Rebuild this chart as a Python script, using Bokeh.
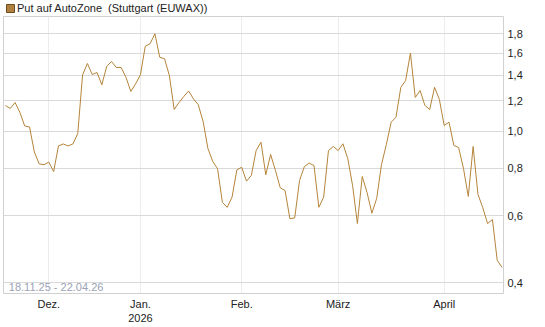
from bokeh.plotting import figure
from bokeh.layouts import column
from bokeh.models import Range1d, FixedTicker, CustomJSTickFormatter, Legend, LegendItem, Label
from bokeh.embed import file_html
from bokeh.resources import INLINE

# Daily closing values (trading days 18.11.25 - 22.04.26)
values = [
    1.167, 1.146, 1.188, 1.119, 1.031, 1.025, 0.881, 0.820, 0.816, 0.829,
    0.783, 0.914, 0.925, 0.914, 0.925, 0.985, 1.403, 1.504, 1.407, 1.424,
    1.322, 1.477, 1.522, 1.468, 1.468, 1.384, 1.270, 1.330, 1.404, 1.669,
    1.694, 1.799, 1.562, 1.547, 1.399, 1.139, 1.188, 1.232, 1.274, 1.214,
    1.172, 1.059, 0.900, 0.832, 0.796, 0.650, 0.631, 0.671, 0.791, 0.804,
    0.739, 0.765, 0.889, 0.935, 0.768, 0.868, 0.788, 0.710, 0.698, 0.589,
    0.592, 0.742, 0.807, 0.824, 0.812, 0.631, 0.671, 0.889, 0.911, 0.889,
    0.926, 0.847, 0.720, 0.572, 0.760, 0.690, 0.609, 0.666, 0.817, 0.922,
    1.055, 1.087, 1.301, 1.357, 1.600, 1.225, 1.277, 1.167, 1.139, 1.303,
    1.210, 1.034, 1.055, 0.917, 0.905, 0.798, 0.674, 0.911, 0.682, 0.630,
    0.572, 0.586, 0.458, 0.439,
]
x = list(range(len(values)))

month_ticks = [9, 28, 49, 69, 91]
month_labels = ["Dez.", "Jan.\n2026", "Feb.", "März", "April"]
y_ticks = [0.4, 0.6, 0.8, 1.0, 1.2, 1.4, 1.6, 1.8]

title_text = "Put auf AutoZone  (Stuttgart (EUWAX))"
range_text = "18.11.25 - 22.04.26"

# --- header strip with legend-style title ---
hdr = figure(width=545, height=16, title=None, x_axis_type=None, y_axis_type=None,
             x_range=Range1d(0, 1), y_range=Range1d(0, 1),
             output_backend="svg", toolbar_location=None,
             min_border_left=0, min_border_right=0, min_border_top=0, min_border_bottom=0)
hdr.outline_line_color = None
hdr.background_fill_color = "white"
hdr.border_fill_color = "white"
nan = float("nan")
sq = hdr.quad(left=[nan], right=[nan], top=[nan], bottom=[nan],
              fill_color="#b08040", line_color="#6e4c1e")
legend = Legend(items=[LegendItem(label=title_text, renderers=[sq])],
                location="top_left", padding=0, margin=2,
                glyph_width=10, glyph_height=10, label_height=10,
                label_standoff=2, label_text_font="Liberation Sans",
                label_text_font_size="11px", label_text_color="#222222",
                border_line_color=None, background_fill_alpha=0)
hdr.add_layout(legend)

# --- main chart ---
p = figure(width=545, height=311, title=None,
           y_axis_type="log", y_axis_location="right",
           x_range=Range1d(-0.4, 103.3), y_range=Range1d(0.375, 1.997),
           output_backend="svg", toolbar_location=None,
           min_border_left=3, min_border_right=42,
           min_border_top=0, min_border_bottom=34)

p.background_fill_color = "white"
p.border_fill_color = "white"
p.outline_line_color = "#d0d0d0"

p.xgrid.ticker = FixedTicker(ticks=month_ticks)
p.xgrid.grid_line_color = "#ececec"
p.ygrid.ticker = FixedTicker(ticks=y_ticks)
p.ygrid.grid_line_color = "#d9d9d9"

p.xaxis.ticker = FixedTicker(ticks=month_ticks)
p.xaxis.major_label_overrides = dict(zip(month_ticks, month_labels))
p.yaxis.ticker = FixedTicker(ticks=y_ticks)
p.yaxis.formatter = CustomJSTickFormatter(code="return tick.toFixed(1).replace('.', ',');")

for ax in (p.xaxis[0], p.yaxis[0]):
    ax.axis_line_color = None
    ax.major_tick_line_color = None
    ax.minor_tick_line_color = None
    ax.major_tick_out = 0
    ax.major_tick_in = 0
    ax.major_label_text_font = "Liberation Sans"
    ax.major_label_text_font_size = "11px"
    ax.major_label_text_color = "#222222"
    ax.major_label_standoff = 4

p.line(x, values, line_color="#b5843a", line_width=1)

p.add_layout(Label(x=0.7, y=0.389, text=range_text, text_font="Liberation Sans",
                   text_font_size="11px", text_color="#9aa2b4", text_baseline="middle"))

layout = column(hdr, p, spacing=0)
open("out.html", "w").write(file_html(layout, INLINE))
